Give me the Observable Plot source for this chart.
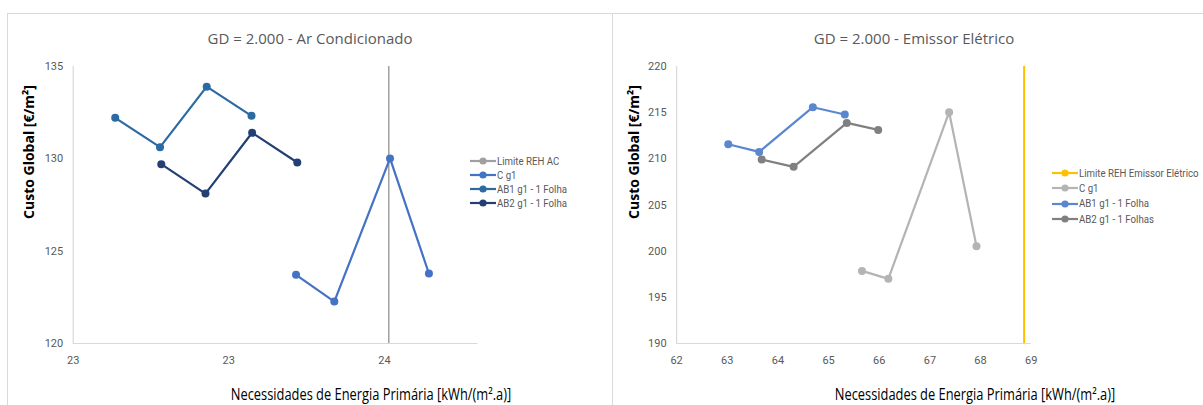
<!DOCTYPE html>
<html>
<head>
<meta charset="utf-8">
<script src="https://cdn.jsdelivr.net/npm/d3@7"></script>
<script src="https://cdn.jsdelivr.net/npm/@observablehq/plot@0.6"></script>
<style>
  html, body { margin: 0; padding: 0; background: #fff; }
  #root { position: relative; width: 1203px; height: 405px; overflow: hidden; background: #fff;
          font-family: "Open Sans", "Liberation Sans", sans-serif; }
  .abs { position: absolute; }
  .title { color: #595959; font-size: 15px; white-space: nowrap; transform: translate(-50%, -50%); }
  .ylab { color: #000; font-weight: bold; font-size: 14px; white-space: nowrap;
          transform: translate(-50%, -50%) rotate(-90deg); }
  .xlab { color: #000; font-size: 15.5px; white-space: nowrap; transform: translate(-50%, -50%) scaleX(0.83); }
  .legend { color: #595959; font-size: 10.5px; font-family: Roboto, "Open Sans", sans-serif; }
  .legend .row { display: flex; align-items: center; white-space: nowrap; }
  .legend svg { display: block; margin-right: 1px; }
  .legend span { display: inline-block; transform: scaleX(0.92); transform-origin: left center; }
</style>
</head>
<body>
<div id="root">
  <div class="abs" style="left:7px; top:13px; width:1196px; height:392px; border-left:1.5px solid #d9d9d9; border-top:1.5px solid #d9d9d9;"></div>
  <div class="abs" style="left:612px; top:14px; width:0; height:391px; border-left:1.5px solid #d9d9d9;"></div>
</div>
<script>
// ---------- Left chart: GD = 2.000 - Ar Condicionado ----------
const leftTitle = "GD = 2.000 - Ar Condicionado";
const leftSeries = ["Limite REH AC", "C g1", "AB1 g1 - 1 Folha", "AB2 g1 - 1 Folha"];
const leftColors = ["#a0a0a0", "#4472c4", "#2c6aa3", "#233f73"];
const leftLimit = 23.514;
const leftCX = [23.216, 23.339, 23.518, 23.643];
const leftCY = [123.72, 122.27, 130.02, 123.79];
const leftAB1X = [22.635, 22.779, 22.929, 23.073];
const leftAB1Y = [132.22, 130.63, 133.91, 132.33];
const leftAB2X = [22.783, 22.925, 23.075, 23.220];
const leftAB2Y = [129.71, 128.12, 131.41, 129.80];
const leftXTicks = [22.5, 23.0, 23.5];
const leftXTickLabels = ["23", "23", "24"];
const leftYTicks = [120, 125, 130, 135];

// ---------- Right chart: GD = 2.000 - Emissor Elétrico ----------
const rightTitle = "GD = 2.000 - Emissor Elétrico";
const rightSeries = ["Limite REH Emissor Elétrico", "C g1", "AB1 g1 - 1 Folha", "AB2 g1 - 1 Folhas"];
const rightColors = ["#ffc000", "#b4b4b4", "#5b86d0", "#808080"];
const rightLimit = 68.86;
const rightCX = [65.66, 66.18, 67.38, 67.92];
const rightCY = [197.86, 197.00, 215.05, 200.54];
const rightAB1X = [63.02, 63.63, 64.69, 65.32];
const rightAB1Y = [211.58, 210.75, 215.59, 214.80];
const rightAB2X = [63.68, 64.31, 65.36, 65.98];
const rightAB2Y = [209.93, 209.13, 213.89, 213.13];
const rightXTicks = [62, 63, 64, 65, 66, 67, 68, 69];
const rightYTicks = [190, 195, 200, 205, 210, 215, 220];

const xLabel = "Necessidades de Energia Primária [kWh/(m².a)]";
const yLabel = "Custo Global [€/m²]";

function rows(name, xs, ys) { return xs.map((x, i) => ({series: name, x, y: ys[i]})); }

const root = document.getElementById("root");
const tickFont = "Roboto, \"Open Sans\", sans-serif";

function makeChart(cfg) {
  const data = [
    ...rows(cfg.series[1], cfg.cx, cfg.cy),
    ...rows(cfg.series[2], cfg.ab1x, cfg.ab1y),
    ...rows(cfg.series[3], cfg.ab2x, cfg.ab2y)
  ];
  const chart = Plot.plot({
    width: cfg.width, height: 405,
    marginLeft: cfg.ml, marginRight: cfg.mr, marginTop: 66, marginBottom: 62,
    style: {fontFamily: tickFont, fontSize: "11px", color: "#595959", background: "transparent", overflow: "visible"},
    x: {domain: cfg.xDomain, ticks: cfg.xTicks, tickFormat: cfg.xFormat, tickSize: 0, tickPadding: 13, label: null},
    y: {domain: cfg.yDomain, ticks: cfg.yTicks, tickSize: 0, tickPadding: 10, label: null},
    color: {domain: cfg.series, range: cfg.colors},
    marks: [
      Plot.ruleY([cfg.yDomain[0]], {stroke: "#d9d9d9", strokeWidth: 1.2}),
      Plot.ruleX([cfg.xDomain[0]], {stroke: "#d9d9d9", strokeWidth: 1.2}),
      Plot.ruleX([cfg.limit], {y1: cfg.yDomain[0], y2: cfg.yDomain[1], stroke: cfg.colors[0], strokeWidth: cfg.limitWidth}),
      Plot.line(data, {x: "x", y: "y", z: "series", stroke: "series", strokeWidth: 2.2}),
      Plot.dot(data, {x: "x", y: "y", fill: "series", r: 4, stroke: "none"})
    ]
  });
  chart.style.position = "absolute";
  chart.style.left = cfg.left + "px";
  chart.style.top = "0px";
  root.appendChild(chart);

  const t = document.createElement("div");
  t.className = "abs title"; t.textContent = cfg.title;
  t.style.left = cfg.titleX + "px"; t.style.top = "38px";
  root.appendChild(t);

  const yl = document.createElement("div");
  yl.className = "abs ylab"; yl.textContent = yLabel;
  yl.style.left = cfg.ylabX + "px"; yl.style.top = "152px";
  root.appendChild(yl);

  const xl = document.createElement("div");
  xl.className = "abs xlab"; xl.textContent = xLabel;
  xl.style.left = cfg.xlabX + "px"; xl.style.top = "394px";
  root.appendChild(xl);

  const lg = document.createElement("div");
  lg.className = "abs legend";
  lg.style.left = cfg.legX + "px"; lg.style.top = cfg.legY + "px";
  cfg.series.forEach((s, i) => {
    const r = document.createElement("div"); r.className = "row";
    r.innerHTML = `<svg width="26" height="10"><line x1="0" x2="26" y1="5" y2="5" stroke="${cfg.colors[i]}" stroke-width="2.2"/><circle cx="13" cy="5" r="3.6" fill="${cfg.colors[i]}"/></svg><span></span>`;
    r.querySelector("span").textContent = s;
    r.style.height = cfg.legRow + "px";
    lg.appendChild(r);
  });
  root.appendChild(lg);
}

makeChart({
  title: leftTitle, series: leftSeries, colors: leftColors, limit: leftLimit, limitWidth: 1.5,
  cx: leftCX, cy: leftCY, ab1x: leftAB1X, ab1y: leftAB1Y, ab2x: leftAB2X, ab2y: leftAB2Y,
  xDomain: [22.5, 23.801], yDomain: [120, 135], xTicks: leftXTicks,
  xFormat: d => leftXTickLabels[leftXTicks.indexOf(d)], yTicks: leftYTicks,
  width: 612, left: 0, ml: 72.7, mr: 134.4,
  titleX: 310, ylabX: 27.5, xlabX: 371, legX: 470, legY: 154, legRow: 14
});

makeChart({
  title: rightTitle, series: rightSeries, colors: rightColors, limit: rightLimit, limitWidth: 2,
  cx: rightCX, cy: rightCY, ab1x: rightAB1X, ab1y: rightAB1Y, ab2x: rightAB2X, ab2y: rightAB2Y,
  xDomain: [62, 69], yDomain: [190, 220], xTicks: rightXTicks,
  xFormat: d => String(d), yTicks: rightYTicks,
  width: 591, left: 612, ml: 64.1, mr: 172.3,
  titleX: 914, ylabX: 632.7, xlabX: 975, legX: 1052, legY: 165.5, legRow: 15.3
});
</script>
</body>
</html>
